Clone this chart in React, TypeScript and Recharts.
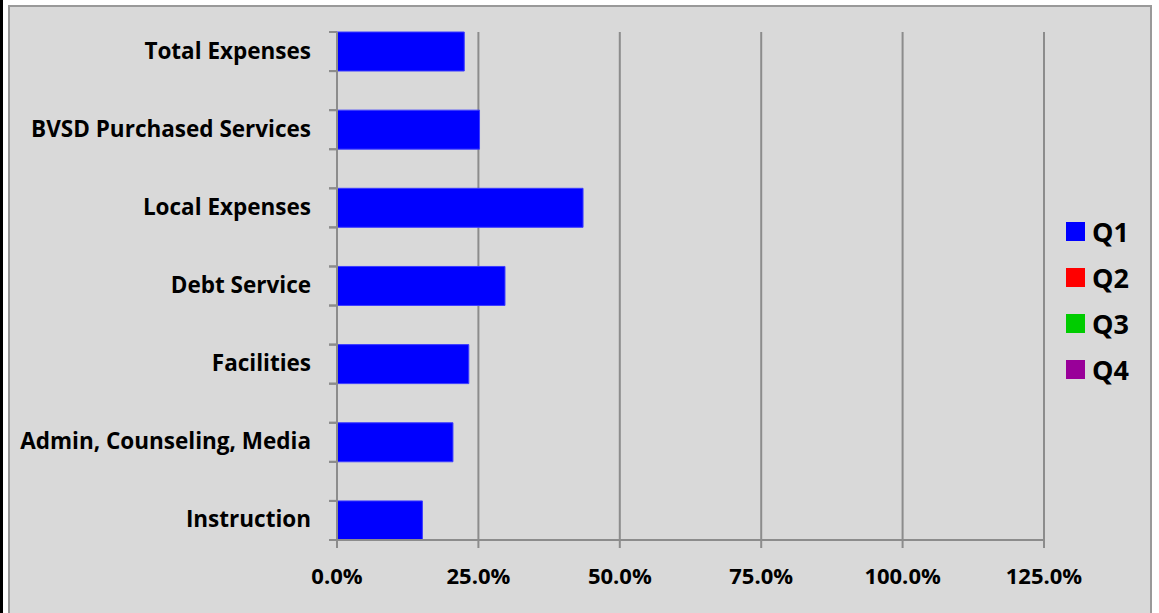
import React from "react";
import { BarChart, Bar, XAxis, YAxis, CartesianGrid, Legend } from "recharts";

const CATEGORIES = [
  "Total Expenses",
  "BVSD Purchased Services",
  "Local Expenses",
  "Debt Service",
  "Facilities",
  "Admin, Counseling, Media",
  "Instruction",
];
const Q1 = [22.5, 25.2, 43.5, 29.7, 23.3, 20.5, 15.1];
const SERIES = [
  { key: "Q1", color: "#0000ff" },
  { key: "Q2", color: "#ff0000" },
  { key: "Q3", color: "#00cc00" },
  { key: "Q4", color: "#990099" },
];
const X_TICKS = [0, 25, 50, 75, 100, 125];

// Excel leaves an empty row between each category, so interleave spacer rows
const rows = CATEGORIES.flatMap((name, i) => {
  const row = { name, Q1: Q1[i], Q2: null, Q3: null, Q4: null };
  return i === 0 ? [row] : [{ name: "", Q1: null, Q2: null, Q3: null, Q4: null }, row];
});

const FONT = "'Open Sans', Lato, sans-serif";
const GRID = "#8c8c8c";
const ROW_H = 39.1;
const TICK_MARGIN = 18;
const TICK_SIZE = 8;

function YTick(props: any) {
  const { x, y, payload } = props;
  const lx = x + TICK_MARGIN;
  return (
    <g>
      <line x1={lx} x2={lx + TICK_SIZE} y1={y - ROW_H / 2} y2={y - ROW_H / 2} stroke={GRID} strokeWidth={2} />
      <line x1={lx} x2={lx + TICK_SIZE} y1={y + ROW_H / 2} y2={y + ROW_H / 2} stroke={GRID} strokeWidth={2} />
      {payload.value ? (
        <text x={x} y={y} dy={7} textAnchor="end" fontFamily={FONT} fontWeight={700} fontSize={22.5} fill="#000">
          {payload.value}
        </text>
      ) : null}
    </g>
  );
}

function LegendBox() {
  return (
    <div style={{ fontFamily: FONT, fontWeight: 700, fontSize: 27 }}>
      {SERIES.map((s) => (
        <div key={s.key} style={{ display: "flex", alignItems: "center", height: 46 }}>
          <span style={{ width: 19, height: 19, background: s.color, display: "inline-block", marginRight: 7 }} />
          <span>{s.key}</span>
        </div>
      ))}
    </div>
  );
}

export default function App() {
  return (
    <div style={{ position: "absolute", left: 0, top: 0, width: 1159, height: 613, background: "#fff", overflow: "hidden" }}>
      <div style={{ position: "absolute", left: 0, top: 0, width: 3, height: 613, background: "#000" }} />
      <div
        style={{
          position: "absolute",
          left: 8,
          top: 5,
          width: 1140,
          height: 630,
          background: "#d9d9d9",
          border: "2px solid #999",
        }}
      />
      <div style={{ position: "absolute", left: 0, top: 0 }}>
        <BarChart
          width={1159}
          height={613}
          data={rows}
          layout="vertical"
          barCategoryGap={0}
          margin={{ top: 32, right: 115, bottom: 0, left: 0 }}
        >
          <CartesianGrid horizontal={false} stroke={GRID} strokeWidth={2} />
          <XAxis
            type="number"
            domain={[0, 125]}
            ticks={X_TICKS}
            height={73}
            tickFormatter={(v) => `${v.toFixed(1)}%`}
            tick={{ fontFamily: FONT, fontWeight: 700, fontSize: 22, fill: "#000" }}
            tickSize={8}
            tickMargin={20}
            tickLine={{ stroke: GRID, strokeWidth: 2 }}
            axisLine={{ stroke: GRID, strokeWidth: 2 }}
          />
          <YAxis
            type="category"
            dataKey="name"
            width={337}
            interval={0}
            tickSize={TICK_SIZE}
            tickMargin={TICK_MARGIN}
            tick={<YTick />}
            tickLine={false}
            axisLine={{ stroke: GRID, strokeWidth: 2 }}
          />
          <Legend
            layout="vertical"
            align="center"
            verticalAlign="middle"
            content={<LegendBox />}
            wrapperStyle={{ left: 1066, top: 208, width: 80 }}
          />
          {SERIES.map((s) => (
            <Bar key={s.key} dataKey={s.key} stackId="q" fill={s.color} stroke="#3c3cff" strokeWidth={1} isAnimationActive={false} />
          ))}
        </BarChart>
      </div>
    </div>
  );
}
